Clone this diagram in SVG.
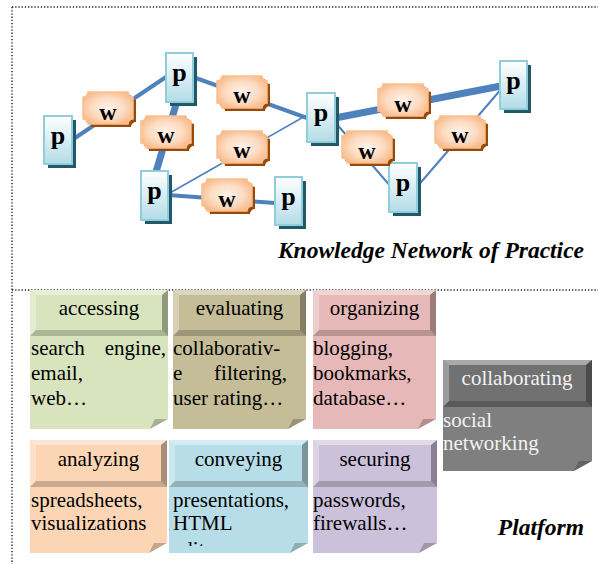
<svg xmlns="http://www.w3.org/2000/svg" width="598" height="564" viewBox="0 0 598 564">
<style>
.dot{stroke:#222;stroke-width:1.4;stroke-dasharray:1.3 1.9;fill:none}
.edge{stroke:#4f81bd;fill:none}
.pbox{fill:url(#pgrad);stroke:#92cddc;stroke-width:2}
.pshadow{fill:#215968}
.wface{fill:url(#wgrad);stroke:#fac090;stroke-width:1.5}
.wshadow{fill:#984807}
.plabel{font-family:"Liberation Serif","Times New Roman",serif;font-weight:bold;font-size:26px;text-anchor:middle;fill:#000}
.wlabel{font-family:"Liberation Serif","Times New Roman",serif;font-weight:bold;font-size:24px;text-anchor:middle;fill:#000}
.title{font-family:"Liberation Serif","Times New Roman",serif;font-weight:bold;font-style:italic;font-size:23.5px;text-anchor:end;fill:#000}
.ht{font-family:"Liberation Serif","Times New Roman",serif;font-size:21px;text-anchor:middle;fill:#000}
.bt{font-family:"Liberation Serif","Times New Roman",serif;font-size:21px;fill:#000}
.end{text-anchor:end}
.light{fill:#f2f2f2}
.bvT{fill:#fff;opacity:.4}
.bvL{fill:#fff;opacity:.3}
.bvR{fill:#000;opacity:.33}
.bvB{fill:#000;opacity:.2}
.fold{fill:#000;opacity:.22}
</style>
<defs>
<linearGradient id="pgrad" x1="0" y1="0" x2="0" y2="1">
<stop offset="0" stop-color="#ffffff"/>
<stop offset="1" stop-color="#b3dce7"/>
</linearGradient>
<radialGradient id="wgrad" cx="0.5" cy="0.5" r="0.6">
<stop offset="0" stop-color="#fef3ea"/>
<stop offset="0.55" stop-color="#fcdcc2"/>
<stop offset="1" stop-color="#f9b784"/>
</radialGradient>
<path id="wshape" d="M5,0 H45 A5 5 0 0 0 50,5 V27 A5 5 0 0 0 45,32 H5 A5 5 0 0 0 0,27 V5 A5 5 0 0 0 5,0 Z"/>
<clipPath id="clip5"><rect x="169" y="488" width="139" height="58"/></clipPath>
</defs>

<g id="frame">
<line class="dot" x1="12" y1="7" x2="598" y2="7"/>
<line class="dot" x1="12" y1="7" x2="12" y2="564"/>
<line class="dot" x1="12" y1="290" x2="598" y2="290"/>
</g>

<g id="connectors">
<line class="edge" stroke-width="4" x1="72" y1="140" x2="166" y2="77"/>
<line class="edge" stroke-width="7" x1="177" y1="101" x2="156" y2="172"/>
<line class="edge" stroke-width="4" x1="193" y1="77" x2="307" y2="118"/>
<line class="edge" stroke-width="1.6" x1="168" y1="194" x2="307" y2="115"/>
<line class="edge" stroke-width="4" x1="168" y1="195" x2="275" y2="203"/>
<line class="edge" stroke-width="7" x1="335" y1="118" x2="501" y2="86"/>
<line class="edge" stroke-width="2" x1="334" y1="121" x2="392" y2="188"/>
<line class="edge" stroke-width="2" x1="416" y1="188" x2="503" y2="87"/>
</g>

<g id="p1"><rect class="pshadow" x="48" y="120" width="28" height="48"/><rect class="pbox" x="44" y="116" width="28" height="48"/><text class="plabel" x="58" y="144">p</text></g>
<g id="p2"><rect class="pshadow" x="170" y="57" width="27" height="49"/><rect class="pbox" x="166" y="53" width="27" height="49"/><text class="plabel" x="179.5" y="81">p</text></g>
<g id="p3"><rect class="pshadow" x="145" y="175" width="27" height="49"/><rect class="pbox" x="141" y="171" width="27" height="49"/><text class="plabel" x="154.5" y="199">p</text></g>
<g id="p4"><rect class="pshadow" x="279" y="181" width="27" height="48"/><rect class="pbox" x="275" y="177" width="27" height="48"/><text class="plabel" x="288.5" y="205">p</text></g>
<g id="p5"><rect class="pshadow" x="311" y="97" width="28" height="49"/><rect class="pbox" x="307" y="93" width="28" height="49"/><text class="plabel" x="321" y="121">p</text></g>
<g id="p6"><rect class="pshadow" x="504" y="65" width="27" height="48"/><rect class="pbox" x="500" y="61" width="27" height="48"/><text class="plabel" x="513.5" y="89">p</text></g>
<g id="p7"><rect class="pshadow" x="393" y="167" width="28" height="49"/><rect class="pbox" x="389" y="163" width="28" height="49"/><text class="plabel" x="403" y="191">p</text></g>

<g id="w1" transform="translate(83,92)"><use href="#wshape" class="wshadow" x="3" y="3"/><use href="#wshape" class="wface"/><text class="wlabel" x="25" y="28">w</text></g>
<g id="w2" transform="translate(141,116)"><use href="#wshape" class="wshadow" x="3" y="3"/><use href="#wshape" class="wface"/><text class="wlabel" x="25" y="27">w</text></g>
<g id="w3" transform="translate(217,76)"><use href="#wshape" class="wshadow" x="3" y="3"/><use href="#wshape" class="wface"/><text class="wlabel" x="25" y="27">w</text></g>
<g id="w4" transform="translate(217,131)"><use href="#wshape" class="wshadow" x="3" y="3"/><use href="#wshape" class="wface"/><text class="wlabel" x="25" y="27">w</text></g>
<g id="w5" transform="translate(202,179)"><use href="#wshape" class="wshadow" x="3" y="3"/><use href="#wshape" class="wface"/><text class="wlabel" x="25" y="28">w</text></g>
<g id="w6" transform="translate(378,84)"><use href="#wshape" class="wshadow" x="3" y="3"/><use href="#wshape" class="wface"/><text class="wlabel" x="25" y="28">w</text></g>
<g id="w7" transform="translate(342,131)"><use href="#wshape" class="wshadow" x="3" y="3"/><use href="#wshape" class="wface"/><text class="wlabel" x="25" y="28">w</text></g>
<g id="w8" transform="translate(435,116)"><use href="#wshape" class="wshadow" x="3" y="3"/><use href="#wshape" class="wface"/><text class="wlabel" x="25" y="27">w</text></g>

<text id="title-knp" class="title" x="584" y="258">Knowledge Network of Practice</text>

<g id="card-accessing">
<path fill="#d7e4bd" d="M30,290 H168 V419 L150,429 H30 Z"/>
<path class="fold" d="M150,429 L155,419 L168,419 Z"/>
<polygon class="bvT" points="30,290 168,290 162,295 36,295"/>
<polygon class="bvL" points="30,290 36,295 36,330 30,336"/>
<polygon class="bvR" points="168,290 168,336 162,330 162,295"/>
<polygon class="bvB" points="30,336 36,330 162,330 168,336"/>
<text class="ht" x="99" y="315">accessing</text>
<text class="bt" x="31" y="355">search</text><text class="bt end" x="166" y="355">engine,</text>
<text class="bt" x="31" y="380">email,</text>
<text class="bt" x="31" y="405">web…</text>
</g>

<g id="card-evaluating">
<path fill="#c4bd97" d="M173,290 H306 V419 L288,429 H173 Z"/>
<path class="fold" d="M288,429 L293,419 L306,419 Z"/>
<polygon class="bvT" points="173,290 306,290 300,295 179,295"/>
<polygon class="bvL" points="173,290 179,295 179,330 173,336"/>
<polygon class="bvR" points="306,290 306,336 300,330 300,295"/>
<polygon class="bvB" points="173,336 179,330 300,330 306,336"/>
<text class="ht" x="239.5" y="315">evaluating</text>
<text class="bt" x="173" y="355">collaborativ-</text>
<text class="bt" x="173" y="380">e</text><text class="bt end" x="287" y="380">filtering,</text>
<text class="bt" x="173" y="405">user rating…</text>
</g>

<g id="card-organizing">
<path fill="#e6b9b8" d="M313,290 H436 V419 L418,429 H313 Z"/>
<path class="fold" d="M418,429 L423,419 L436,419 Z"/>
<polygon class="bvT" points="313,290 436,290 430,295 319,295"/>
<polygon class="bvL" points="313,290 319,295 319,330 313,336"/>
<polygon class="bvR" points="436,290 436,336 430,330 430,295"/>
<polygon class="bvB" points="313,336 319,330 430,330 436,336"/>
<text class="ht" x="374.5" y="315">organizing</text>
<text class="bt" x="313" y="355">blogging,</text>
<text class="bt" x="313" y="380">bookmarks,</text>
<text class="bt" x="313" y="405">database…</text>
</g>

<g id="card-analyzing">
<path fill="#fcd5b5" d="M30,440 H167 V543 L149,553 H30 Z"/>
<path class="fold" d="M149,553 L154,543 L167,543 Z"/>
<polygon class="bvT" points="30,440 167,440 161,445 36,445"/>
<polygon class="bvL" points="30,440 36,445 36,481 30,487"/>
<polygon class="bvR" points="167,440 167,487 161,481 161,445"/>
<polygon class="bvB" points="30,487 36,481 161,481 167,487"/>
<text class="ht" x="98.5" y="466">analyzing</text>
<text class="bt" x="31" y="507">spreadsheets,</text>
<text class="bt" x="31" y="530">visualizations</text>
</g>

<g id="card-conveying">
<path fill="#b7dee8" d="M169,440 H308 V543 L290,553 H169 Z"/>
<path class="fold" d="M290,553 L295,543 L308,543 Z"/>
<polygon class="bvT" points="169,440 308,440 302,445 175,445"/>
<polygon class="bvL" points="169,440 175,445 175,481 169,487"/>
<polygon class="bvR" points="308,440 308,487 302,481 302,445"/>
<polygon class="bvB" points="169,487 175,481 302,481 308,487"/>
<text class="ht" x="238.5" y="466">conveying</text>
<text class="bt" x="173" y="507">presentations,</text>
<text class="bt" x="173" y="530">HTML</text>
<text class="bt" x="173" y="556" clip-path="url(#clip5)">editors</text>
</g>

<g id="card-securing">
<path fill="#ccc1da" d="M313,440 H437 V543 L419,553 H313 Z"/>
<path class="fold" d="M419,553 L424,543 L437,543 Z"/>
<polygon class="bvT" points="313,440 437,440 431,445 319,445"/>
<polygon class="bvL" points="313,440 319,445 319,481 313,487"/>
<polygon class="bvR" points="437,440 437,487 431,481 431,445"/>
<polygon class="bvB" points="313,487 319,481 431,481 437,487"/>
<text class="ht" x="375" y="466">securing</text>
<text class="bt" x="313" y="507">passwords,</text>
<text class="bt" x="313" y="530">firewalls…</text>
</g>

<g id="card-collaborating">
<path fill="#7f7f7f" d="M443,360 H592 V461 L574,471 H443 Z"/>
<path class="fold" d="M574,471 L579,461 L592,461 Z"/>
<rect x="443" y="360" width="149" height="47" fill="#717171"/>
<polygon class="bvT" points="443,360 592,360 586,365 449,365"/>
<polygon class="bvL" points="443,360 449,365 449,401 443,407"/>
<polygon class="bvR" points="592,360 592,407 586,401 586,365"/>
<polygon class="bvB" points="443,407 449,401 586,401 592,407"/>
<text class="ht light" x="517" y="385">collaborating</text>
<text class="bt light" x="443" y="427">social</text>
<text class="bt light" x="443" y="450">networking</text>
</g>

<text id="title-platform" class="title" x="584" y="535">Platform</text>
</svg>
